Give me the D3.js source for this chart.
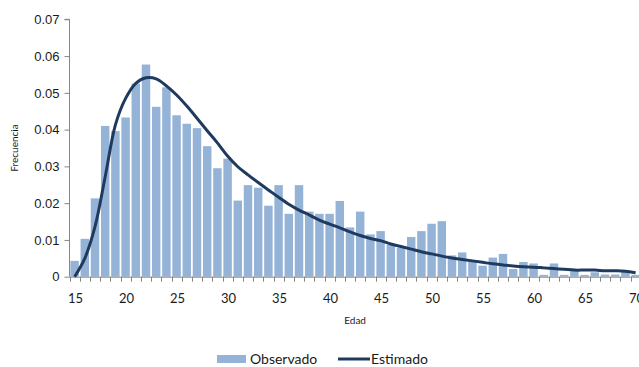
<!DOCTYPE html>
<html>
<head>
<meta charset="utf-8">
<script src="https://cdn.jsdelivr.net/npm/d3@7"></script>
<style>
  html, body { margin: 0; padding: 0; background: #fff; }
  svg { display: block; font-family: Lato, "Open Sans", sans-serif; }
</style>
</head>
<body>
<svg id="chart" width="639" height="367"></svg>
<script>
// Edad (categorías del eje X)
const ages = [15,16,17,18,19,20,21,22,23,24,25,26,27,28,29,30,31,32,33,34,35,36,37,38,39,40,41,42,
              43,44,45,46,47,48,49,50,51,52,53,54,55,56,57,58,59,60,61,62,63,64,65,66,67,68,69,70];

// Frecuencia observada por edad
const observado = [0.0043,0.0103,0.0213,0.0410,0.0396,0.0433,0.0525,0.0577,0.0462,0.0515,0.0439,0.0416,
                   0.0404,0.0355,0.0295,0.0321,0.0207,0.0249,0.0242,0.0193,0.0249,0.0171,0.0249,0.0177,
                   0.0171,0.0171,0.0206,0.0134,0.0177,0.0115,0.0124,0.0087,0.0078,0.0108,0.0124,0.0144,
                   0.0151,0.0058,0.0066,0.0042,0.0030,0.0052,0.0062,0.0021,0.0040,0.0036,0.0005,0.0036,
                   0.0005,0.0016,0.0005,0.0012,0.0006,0.0006,0.0013,0.0005];

// Frecuencia estimada por el modelo
const estimado = [0.0000,0.0050,0.0136,0.0272,0.0413,0.0485,0.0526,0.0541,0.0538,0.0519,0.0494,0.0464,
                  0.0431,0.0397,0.0364,0.0328,0.0299,0.0277,0.0256,0.0236,0.0216,0.0197,0.0181,0.0168,
                  0.0154,0.0143,0.0133,0.0122,0.0112,0.0104,0.0098,0.0089,0.0082,0.0075,0.0068,0.0062,
                  0.0056,0.0051,0.0047,0.0043,0.0039,0.0035,0.0032,0.0029,0.0027,0.0026,0.0024,0.0022,
                  0.0020,0.0018,0.0018,0.0018,0.0016,0.0016,0.0015,0.0011];

const yTicks = [0, 0.01, 0.02, 0.03, 0.04, 0.05, 0.06, 0.07];
const xLabels = [15, 20, 25, 30, 35, 40, 45, 50, 55, 60, 65, 70];

const svg = d3.select("#chart");
const plotLeft = 69.5, plotRight = 640.7, plotTop = 19.3, plotBottom = 276.7;

const x = d3.scaleBand().domain(ages).range([plotLeft, plotRight]).paddingInner(0.17).paddingOuter(0.085);
const y = d3.scaleLinear().domain([0, 0.07]).range([plotBottom, plotTop]);

const axisColor = "#868686";
const textColor = "#1a1a1a";

// Barras: frecuencia observada
svg.append("g")
  .selectAll("rect")
  .data(ages)
  .join("rect")
  .attr("x", (d) => x(d))
  .attr("y", (d, i) => y(observado[i]))
  .attr("width", x.bandwidth())
  .attr("height", (d, i) => plotBottom - y(observado[i]))
  .attr("fill", "#95B3D7");

// Eje Y
const yAxis = svg.append("g")
  .attr("transform", `translate(${plotLeft},0)`)
  .call(d3.axisLeft(y).tickValues(yTicks).tickSize(5).tickPadding(5)
    .tickFormat((d) => d === 0 ? "0" : d3.format(".2f")(d)));
yAxis.select(".domain").attr("stroke", axisColor).attr("d", `M-5,${plotTop}H0V${plotBottom}`);
yAxis.selectAll(".tick line").attr("stroke", axisColor);
yAxis.selectAll(".tick text").attr("fill", textColor).style("font-size", "13px");

// Eje X: marcas entre categorías, etiquetas cada 5 años
const step = x.step();
const boundaries = ages.map((d) => x(d) - (step - x.bandwidth()) / 2).concat([plotRight]);
const xAxis = svg.append("g");
xAxis.append("line")
  .attr("x1", plotLeft).attr("x2", plotRight)
  .attr("y1", plotBottom + 0.5).attr("y2", plotBottom + 0.5)
  .attr("stroke", axisColor);
xAxis.selectAll("line.tk")
  .data(boundaries)
  .join("line")
  .attr("class", "tk")
  .attr("x1", (d) => Math.round(d) + 0.5).attr("x2", (d) => Math.round(d) + 0.5)
  .attr("y1", plotBottom).attr("y2", plotBottom + 5)
  .attr("stroke", axisColor);
xAxis.selectAll("text")
  .data(xLabels)
  .join("text")
  .attr("x", (d) => x(d) + x.bandwidth() / 2 + 1)
  .attr("y", plotBottom + 26)
  .attr("text-anchor", "middle")
  .attr("fill", textColor)
  .style("font-size", "13px")
  .text((d) => d);

// Curva: frecuencia estimada
const line = d3.line()
  .x((d) => x(d) + x.bandwidth() / 2)
  .y((d, i) => y(estimado[i]))
  .curve(d3.curveCatmullRom.alpha(0.5));
svg.append("path")
  .datum(ages)
  .attr("d", line)
  .attr("fill", "none")
  .attr("stroke", "#1F3A5F")
  .attr("stroke-width", 3)
  .attr("stroke-linejoin", "round");

// Títulos de los ejes
svg.append("text")
  .attr("x", (plotLeft + plotRight) / 2)
  .attr("y", plotBottom + 47)
  .attr("text-anchor", "middle")
  .attr("fill", textColor)
  .style("font-size", "10px")
  .text("Edad");
svg.append("text")
  .attr("transform", `translate(18,${(plotTop + plotBottom) / 2}) rotate(-90)`)
  .attr("text-anchor", "middle")
  .attr("fill", textColor)
  .style("font-size", "10px")
  .text("Frecuencia");

// Leyenda
const legend = svg.append("g").attr("transform", "translate(0,359)");
legend.append("rect")
  .attr("x", 217).attr("y", -4).attr("width", 29).attr("height", 8)
  .attr("fill", "#95B3D7");
legend.append("text")
  .attr("x", 250).attr("y", 5)
  .attr("fill", textColor).style("font-size", "14px")
  .text("Observado");
legend.append("line")
  .attr("x1", 338).attr("x2", 370).attr("y1", 0).attr("y2", 0)
  .attr("stroke", "#1F3A5F").attr("stroke-width", 3);
legend.append("text")
  .attr("x", 371).attr("y", 5)
  .attr("fill", textColor).style("font-size", "14px")
  .text("Estimado");
</script>
</body>
</html>
